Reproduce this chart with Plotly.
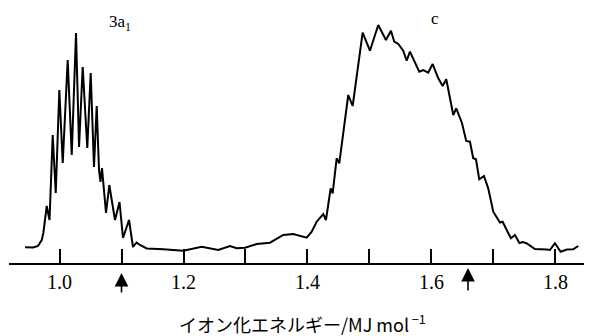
import plotly.graph_objects as go

# Ionization energy (MJ/mol) and relative intensity (arbitrary units)
energy = [0.9444, 0.9573, 0.9653, 0.9713, 0.9739, 0.9794, 0.9819, 0.9839, 0.9890, 0.9911,
          0.9939, 0.9997, 1.0052, 1.0132, 1.0197, 1.0266, 1.0315, 1.0374, 1.0448, 1.0503,
          1.0556, 1.0600, 1.0637, 1.0661, 1.0685, 1.0750, 1.0803, 1.0895, 1.0968, 1.1024,
          1.1121, 1.1185, 1.1242, 1.1298, 1.1406, 1.1674, 1.1997, 1.2294, 1.2561, 1.2750,
          1.2858, 1.2992, 1.3181, 1.3395, 1.3610, 1.3771, 1.3987, 1.4068, 1.4148, 1.4255,
          1.4298, 1.4374, 1.4406, 1.4471, 1.4513, 1.4658, 1.4729, 1.4890, 1.5008, 1.5142,
          1.5266, 1.5347, 1.5400, 1.5465, 1.5545, 1.5600, 1.5653, 1.5803, 1.5868, 1.5948,
          1.6019, 1.6110, 1.6181, 1.6239, 1.6352, 1.6400, 1.6492, 1.6561, 1.6621, 1.6674,
          1.6718, 1.6771, 1.6847, 1.6916, 1.6997, 1.7105, 1.7148, 1.7282, 1.7347, 1.7419,
          1.7476, 1.7540, 1.7669, 1.7858, 1.7911, 1.7992, 1.8084, 1.8185, 1.8287, 1.8368]
intensity = [15.7, 15.5, 17.0, 23.0, 30.0, 57.0, 49.0, 43.0, 128.0, 103.0,
             70.0, 173.0, 100.0, 203.0, 108.0, 230.0, 116.0, 196.0, 115.0, 190.0,
             96.0, 157.0, 93.0, 81.0, 95.0, 50.0, 78.0, 43.0, 61.0, 25.0,
             43.0, 16.0, 20.5, 18.0, 14.5, 13.7, 12.3, 16.3, 13.0, 17.0,
             14.7, 15.3, 19.0, 20.3, 28.0, 29.0, 25.3, 31.3, 41.3, 49.0,
             43.0, 74.7, 69.7, 104.7, 99.7, 168.0, 157.0, 230.3, 212.3, 238.0,
             223.0, 232.3, 221.3, 219.0, 212.3, 202.3, 211.3, 191.3, 193.0, 190.3,
             199.0, 184.7, 177.0, 183.7, 148.0, 154.7, 140.0, 122.0, 121.3, 104.7,
             103.7, 83.7, 87.0, 74.7, 51.3, 40.5, 41.3, 24.7, 28.0, 20.0,
             21.0, 19.5, 14.0, 13.5, 13.0, 19.7, 11.3, 13.5, 13.7, 17.0]

tick_vals = [1.0, 1.1, 1.2, 1.3, 1.4, 1.5, 1.6, 1.7, 1.8]
tick_text = ["1.0", "", "1.2", "", "1.4", "", "1.6", "", "1.8"]
arrow_positions = [1.1, 1.659]
band_labels = [("3a<sub>1</sub>", 1.0976, 240), ("c", 1.6065, 245)]
axis_title = "イオン化エネルギー/MJ mol<sup> −1</sup>"

serif = "Liberation Serif, Times New Roman, serif"

fig = go.Figure()
fig.add_trace(go.Scatter(x=energy, y=intensity, mode="lines",
                         line=dict(color="black", width=2), hoverinfo="skip",
                         showlegend=False))

annotations = []
for txt, xv, yv in band_labels:
    annotations.append(dict(x=xv, y=yv, xref="x", yref="y", text=txt, showarrow=False,
                            font=dict(family=serif, size=17, color="black")))
tips = [-10 / 253, -5 / 253]
lens = [21, 24]
for xv, tip, ln in zip(arrow_positions, tips, lens):
    annotations.append(dict(x=xv, y=tip, xref="x", yref="paper", text="", showarrow=True,
                            ax=0, ay=ln, arrowhead=2, arrowsize=1.7, arrowwidth=1.6,
                            arrowcolor="black"))
annotations.append(dict(x=1.392, y=-60 / 253, xref="x", yref="paper",
                        xanchor="center", yanchor="middle",
                        text=axis_title, showarrow=False,
                        font=dict(family="Noto Sans CJK JP, " + serif, size=18, color="black")))

fig.update_layout(
    width=584, height=328,
    margin=dict(l=1, r=0, t=2, b=73),
    paper_bgcolor="white", plot_bgcolor="white",
    xaxis=dict(range=[0.9185, 1.859], showgrid=False, zeroline=False,
               showline=True, linecolor="black", linewidth=2,
               ticks="inside", ticklen=14, tickwidth=1.5, tickcolor="black",
               tickvals=tick_vals, ticktext=tick_text,
               tickfont=dict(family=serif, size=20, color="black")),
    yaxis=dict(range=[0, 253], visible=False),
    annotations=annotations,
)

fig.write_html("out.html")
